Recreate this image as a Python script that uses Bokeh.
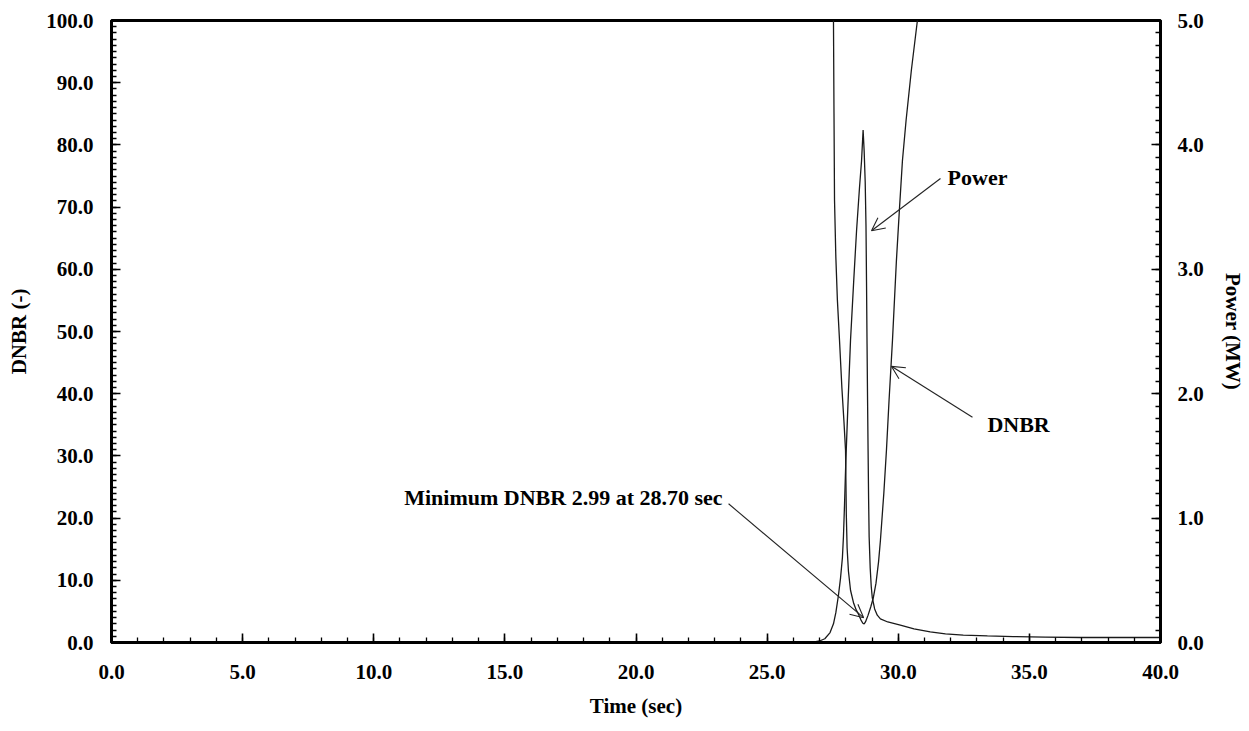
from bokeh.plotting import figure
from bokeh.models import (Range1d, LinearAxis, FixedTicker, NumeralTickFormatter,
                          Arrow, OpenHead, Label)
from bokeh.embed import file_html
from bokeh.resources import INLINE

# --- transient data -------------------------------------------------------
# DNBR trace (values above 100 run off the top of the chart)
time_dnbr = [0.0, 20.0, 26.0, 27.0, 27.30, 27.45, 27.53, 27.55, 27.57, 27.62,
             27.68, 27.76, 27.85, 27.93, 27.99, 28.02, 28.05, 28.10, 28.18,
             28.30, 28.40, 28.48, 28.58, 28.65, 28.70, 28.75, 28.85, 28.95,
             29.05, 29.15, 29.25, 29.32, 29.45, 29.55, 29.65, 29.78, 29.93,
             30.05, 30.16, 30.30, 30.50, 30.73, 31.00, 31.50, 40.0]
dnbr = [420.0, 380.0, 300.0, 180.0, 135.0, 112.0, 100.0, 85.0, 71.1, 62.0,
        55.0, 48.6, 41.0, 35.5, 30.9, 20.5, 15.2, 11.5, 8.4,
        6.3, 5.2, 4.6, 3.6, 3.1, 2.99, 3.3, 4.4, 5.7,
        7.2, 9.5, 13.0, 16.4, 24.0, 30.9, 39.0, 48.6, 61.4,
        70.0, 77.5, 84.0, 92.0, 100.0, 110.0, 128.0, 400.0]

# Core power trace (MW, right axis)
time_power = [0.0, 20.0, 26.5, 26.8, 27.0, 27.2, 27.4, 27.53, 27.62, 27.72,
              27.80, 27.87, 27.91, 27.95, 28.00, 28.08, 28.18, 28.30, 28.41,
              28.52, 28.60, 28.66, 28.70, 28.74, 28.77, 28.79, 28.81, 28.83,
              28.85, 28.87, 28.89, 28.93, 28.97, 29.01, 29.10, 29.20, 29.32,
              29.60, 30.08, 30.60, 31.22, 31.80, 32.48, 33.40, 34.39, 35.60,
              36.95, 38.50, 40.0]
power = [0.0, 0.0, 0.0, 0.004, 0.012, 0.03, 0.08, 0.15, 0.24, 0.38,
         0.52, 0.68, 0.85, 1.10, 1.45, 1.90, 2.43, 2.90, 3.31,
         3.65, 3.87, 4.12, 3.95, 3.70, 3.35, 2.90, 2.40, 1.95,
         1.54, 1.15, 0.85, 0.60, 0.45, 0.36, 0.27, 0.22, 0.19,
         0.165, 0.14, 0.11, 0.085, 0.07, 0.06, 0.053, 0.048, 0.044,
         0.04, 0.04, 0.04]

# minimum DNBR point
t_min = 28.70
dnbr_min = 2.99

x_ticks = [0, 5, 10, 15, 20, 25, 30, 35, 40]
dnbr_ticks = [0, 10, 20, 30, 40, 50, 60, 70, 80, 90, 100]
power_ticks = [0, 1, 2, 3, 4, 5]

FONT = "Liberation Serif"

p = figure(width=1249, height=731, output_backend="svg", toolbar_location=None,
           x_range=Range1d(0, 40), y_range=Range1d(0, 100),
           min_border_left=111, min_border_right=89,
           min_border_top=20, min_border_bottom=89)
p.extra_y_ranges = {"power": Range1d(0, 5)}

p.xgrid.visible = False
p.ygrid.visible = False
p.outline_line_color = "black"
p.outline_line_width = 3
p.background_fill_color = "white"
p.border_fill_color = "white"

# curves
p.line(time_dnbr, dnbr, line_color="#1a1a1a", line_width=1.3)
p.line(time_power, power, line_color="#1a1a1a", line_width=1.3, y_range_name="power")


def style_axis(ax):
    ax.axis_line_width = 3
    ax.axis_line_color = "black"
    ax.major_tick_out = 0
    ax.major_tick_in = 9
    ax.minor_tick_out = 0
    ax.minor_tick_in = 5
    ax.major_tick_line_width = 1.6
    ax.minor_tick_line_width = 1.3
    ax.major_tick_line_color = "black"
    ax.minor_tick_line_color = "black"
    ax.major_label_text_font = FONT
    ax.major_label_text_font_style = "bold"
    ax.major_label_text_font_size = "21px"
    ax.major_label_text_color = "black"
    ax.axis_label_text_font = FONT
    ax.axis_label_text_font_style = "bold"
    ax.axis_label_text_font_size = "21px"
    ax.axis_label_text_color = "black"
    ax.formatter = NumeralTickFormatter(format="0.0")


xa = p.xaxis[0]
style_axis(xa)
xa.ticker = FixedTicker(ticks=x_ticks, minor_ticks=list(range(0, 41)))
xa.axis_label = "Time (sec)"
xa.major_label_standoff = 22
xa.axis_label_standoff = 12

ya = p.yaxis[0]
style_axis(ya)
ya.ticker = FixedTicker(ticks=dnbr_ticks, minor_ticks=list(range(0, 101)))
ya.axis_label = "DNBR (-)"
ya.major_label_standoff = 18
ya.axis_label_standoff = 12

ra = LinearAxis(y_range_name="power")
style_axis(ra)
ra.ticker = FixedTicker(ticks=power_ticks, minor_ticks=[i / 10 for i in range(51)])
ra.axis_label = "Power (MW)"
ra.major_label_standoff = 17
ra.axis_label_standoff = 14
p.add_layout(ra, "right")


# annotations
def note(text, x, y, align):
    p.add_layout(Label(x=x, y=y, text=text, text_font=FONT, text_font_style="bold",
                       text_font_size="22px", text_color="black",
                       text_align=align, text_baseline="middle"))


def pointer(x0, y0, x1, y1):
    p.add_layout(Arrow(end=OpenHead(size=13, line_width=1.1, line_color="#222"),
                       x_start=x0, y_start=y0, x_end=x1, y_end=y1,
                       line_width=1.1, line_color="#222"))


note("Power", 31.88, 74.8, "left")
pointer(31.61, 74.6, 28.98, 66.2)

note("DNBR", 33.4, 35.0, "left")
pointer(32.83, 36.2, 29.74, 44.4)

note(f"Minimum DNBR {dnbr_min:.2f} at {t_min:.2f} sec", 23.3, 23.3, "right")
pointer(23.53, 22.3, t_min - 0.02, dnbr_min + 1.0)

open("out.html", "w").write(file_html(p, INLINE))
